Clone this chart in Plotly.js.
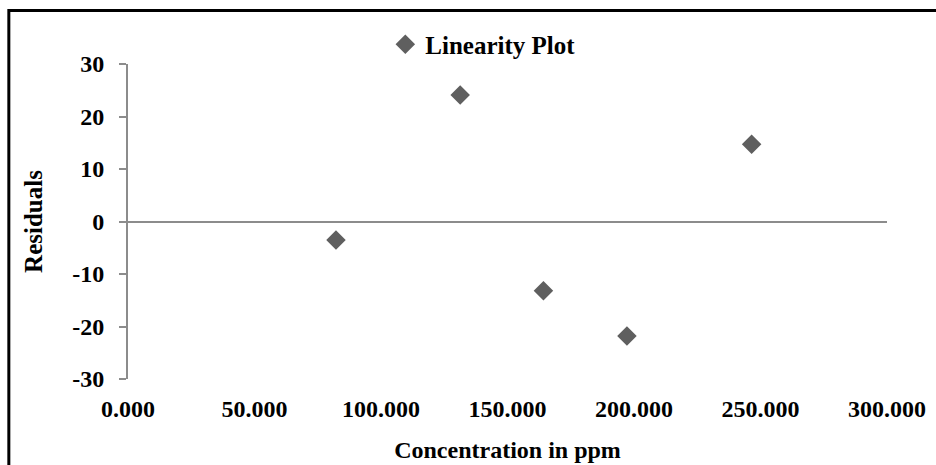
<!DOCTYPE html>
<html>
<head>
<meta charset="utf-8">
<script src="https://cdn.plot.ly/plotly-3.0.1.min.js"></script>
<style>
html,body{margin:0;padding:0;background:#fff;}
#chart{width:936px;height:465px;}
</style>
</head>
<body>
<div id="chart"></div>
<script>
const seriesName = "Linearity Plot";
const concentration = [82.2, 131.3, 164.2, 197.2, 246.5];
const residuals = [-3.5, 24.1, -13.2, -21.8, 14.7];
const xTickVals = [0, 50, 100, 150, 200, 250, 300];
const xTickText = ["0.000", "50.000", "100.000", "150.000", "200.000", "250.000", "300.000"];
const yTickVals = [-30, -20, -10, 0, 10, 20, 30];
const yTickText = ["-30", "-20", "-10", "0", "10", "20", "30"];
const xTitle = "Concentration in ppm";
const yTitle = "Residuals";

const font = "Liberation Serif, Times New Roman, serif";

const data = [{
  type: "scatter",
  mode: "markers",
  name: seriesName,
  x: concentration,
  y: residuals,
  marker: {symbol: "diamond", size: 15, color: "#5f5f5f"},
  showlegend: true
}];

const layout = {
  width: 936, height: 465,
  margin: {l: 128, r: 49, t: 64, b: 86},
  paper_bgcolor: "#fff", plot_bgcolor: "#fff",
  font: {family: font, color: "#000", size: 20},
  showlegend: true,
  legend: {
    x: 0.339, xanchor: "left", y: 1.062, yanchor: "middle",
    orientation: "h", bgcolor: "rgba(0,0,0,0)",
    font: {family: font, size: 25, color: "#000", weight: "bold"},
    itemwidth: 30, tracegroupgap: 0
  },
  xaxis: {
    range: [0, 300],
    tickvals: xTickVals, ticktext: xTickText,
    showline: false, showgrid: false, zeroline: false,
    ticks: "outside", ticklen: 8, tickcolor: "rgba(0,0,0,0)",
    tickfont: {family: font, size: 24, color: "#000", weight: "bold"},
    title: {text: xTitle, font: {family: font, size: 24, color: "#000", weight: "bold"}, standoff: 20}
  },
  yaxis: {
    range: [-30, 30],
    tickvals: yTickVals, ticktext: yTickText,
    showline: true, linecolor: "#8c8c8c", linewidth: 2,
    showgrid: false,
    zeroline: true, zerolinecolor: "#8c8c8c", zerolinewidth: 2,
    ticks: "outside", ticklen: 7, tickcolor: "#8c8c8c", tickwidth: 2,
    ticklabelstandoff: 10,
    tickfont: {family: font, size: 24, color: "#000", weight: "bold"},
    title: {text: yTitle, font: {family: font, size: 25, color: "#000", weight: "bold"}, standoff: 22}
  },
  shapes: [{
    type: "rect", xref: "paper", yref: "paper",
    x0: -0.157, x1: 1.2, y0: -0.5, y1: 1.17,
    line: {color: "#000", width: 3}, fillcolor: "rgba(0,0,0,0)", layer: "above"
  }]
};

Plotly.newPlot("chart", data, layout, {displayModeBar: false, staticPlot: true});
</script>
</body>
</html>
